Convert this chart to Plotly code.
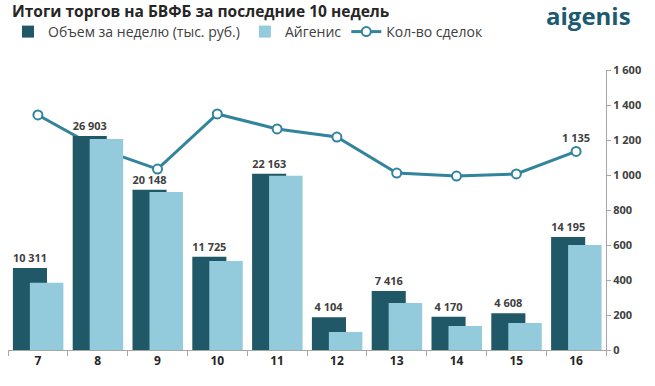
import plotly.graph_objects as go

weeks = ["7", "8", "9", "10", "11", "12", "13", "14", "15", "16"]
volume = [10311, 26903, 20148, 11725, 22163, 4104, 7416, 4170, 4608, 14195]
aigenis = [8460, 26540, 19870, 11190, 21890, 2260, 5910, 3020, 3400, 13200]
deals = [1343, 1154, 1034, 1349, 1263, 1217, 1011, 994, 1006, 1135]

def fmt(v):
    return f"{v:,}".replace(",", " ")

vol_labels = [fmt(v) for v in volume]
deal_labels = [""] * (len(deals) - 1) + [fmt(deals[-1])]

DARK = "#215868"
LIGHT = "#93cbdc"
LINE = "#31849b"
TXT = "#404040"
FONT = "Open Sans"

fig = go.Figure()
fig.add_trace(go.Bar(
    x=weeks, y=volume, name="Объем за неделю (тыс. руб.)",
    marker=dict(color=DARK, line=dict(width=0)),
    offset=-0.418, width=0.57,
    text=vol_labels, textposition="outside", cliponaxis=False,
    textfont=dict(family=FONT, size=11, color=TXT, weight="bold"),
    yaxis="y2",
))
fig.add_trace(go.Bar(
    x=weeks, y=aigenis, name="Айгенис",
    marker=dict(color=LIGHT, line=dict(width=0)),
    offset=-0.134, width=0.56,
    yaxis="y2",
))
fig.add_trace(go.Scatter(
    x=weeks, y=deals, name="Кол-во сделок",
    mode="lines+markers+text",
    line=dict(color=LINE, width=3),
    marker=dict(color="white", size=9, line=dict(color=LINE, width=2)),
    text=deal_labels, textposition="top center", cliponaxis=False,
    textfont=dict(family=FONT, size=11, color=TXT, weight="bold"),
    yaxis="y",
))

fig.update_layout(
    width=655, height=386,
    margin=dict(l=8, r=49, t=70, b=36),
    paper_bgcolor="white", plot_bgcolor="white",
    barmode="overlay",
    font=dict(family=FONT, color=TXT),
    title=dict(text="<b>Итоги торгов на БВФБ за последние 10 недель</b>",
               x=12/655, xref="container", xanchor="left",
               y=1-12/386, yref="container", yanchor="middle",
               font=dict(family=FONT, size=15.5, color="#262626")),
    legend=dict(orientation="h", x=0, xanchor="left", y=1-32/386, yref="container",
                yanchor="middle", font=dict(family=FONT, size=14, color=TXT),
                traceorder="normal", itemwidth=30),
    xaxis=dict(type="category", range=[-0.5, 9.5], autorange=False,
               showline=True, linecolor="#a6a6a6", linewidth=1,
               ticks="outside", tickson="boundaries", ticklen=5, tickcolor="#a6a6a6",
               tickfont=dict(family=FONT, size=12, color="#262626", weight="bold"),
               showgrid=False),
    yaxis=dict(side="right", range=[0, 1600], dtick=200, showgrid=False,
               showline=True, linecolor="#a6a6a6", linewidth=1,
               ticks="outside", ticklen=4, tickcolor="#a6a6a6",
               separatethousands=True,
               tickfont=dict(family=FONT, size=11, color=TXT, weight="bold"),
               zeroline=False),
    yaxis2=dict(overlaying="y", range=[0, 35200], visible=False, showgrid=False),
    separators=", ",
)
fig.add_annotation(text="<b>aigenis</b>", xref="paper", yref="paper",
                   x=(633-8)/598, y=1+(70-15)/280, xanchor="right", yanchor="middle",
                   showarrow=False,
                   font=dict(family=FONT, size=24, color="#1c5a72"))

fig.write_html("out.html", config={"displayModeBar": False},
               post_script="document.body.style.margin='0px';")
